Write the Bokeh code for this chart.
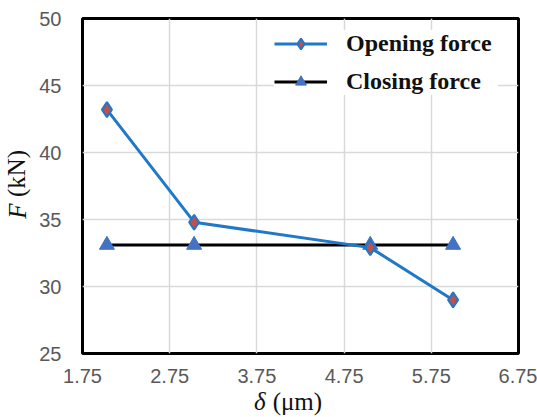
from bokeh.plotting import figure
from bokeh.models import Range1d, FixedTicker, Legend, LegendItem, LinearAxis
from bokeh.embed import file_html
from bokeh.resources import INLINE

delta = [2.03, 3.03, 5.05, 6.0]
opening = [43.2, 34.8, 32.9, 29.0]
closing = [33.1, 33.1, 33.1, 33.1]
x_ticks = [1.75, 2.75, 3.75, 4.75, 5.75, 6.75]
y_ticks = [25, 30, 35, 40, 45, 50]
series_names = ["Opening force", "Closing force"]

NB = "\u00a0"

p = figure(width=537, height=417, output_backend="svg", toolbar_location=None,
           x_range=Range1d(1.75, 6.75), y_range=Range1d(25, 50),
           min_border_left=79, min_border_right=19, min_border_top=18,
           min_border_bottom=60, background_fill_color="white",
           border_fill_color="white")

p.outline_line_color = "black"
p.outline_line_width = 3

p.xaxis.ticker = FixedTicker(ticks=x_ticks)
p.yaxis.ticker = FixedTicker(ticks=y_ticks)
p.xaxis.formatter.use_scientific = False
for ax in (p.xaxis, p.yaxis):
    ax.axis_line_color = None
    ax.major_tick_line_color = None
    ax.minor_tick_line_color = None
    ax.major_label_text_font = "Liberation Sans"
    ax.major_label_text_font_size = "20px"
    ax.major_label_text_color = "#595959"
    ax.axis_label_text_font = "Liberation Serif"
    ax.axis_label_text_font_size = "25px"
    ax.axis_label_text_font_style = "normal"
    ax.axis_label_text_color = "#111111"
p.xaxis.major_label_standoff = 9
p.yaxis.major_label_standoff = 15
p.yaxis.axis_label = NB * 4 + "(kN)"
p.xaxis.axis_label = "(μm)" + NB
p.yaxis.axis_label_standoff = 6
p.xaxis.axis_label_standoff = 2


def italic_axis(text, standoff):
    ax = LinearAxis(ticker=FixedTicker(ticks=[]), axis_label=text)
    ax.axis_line_color = None
    ax.major_tick_line_color = None
    ax.minor_tick_line_color = None
    ax.axis_label_text_font = "Liberation Serif"
    ax.axis_label_text_font_size = "25px"
    ax.axis_label_text_font_style = "italic"
    ax.axis_label_text_color = "#111111"
    ax.axis_label_standoff = standoff
    return ax


p.add_layout(italic_axis("F" + NB * 8, -30), "left")
p.add_layout(italic_axis("δ" + NB * 13, -30), "below")

p.xgrid.grid_line_color = "#d9d9d9"
p.ygrid.grid_line_color = "#d9d9d9"
p.xgrid.grid_line_width = 1.5
p.ygrid.grid_line_width = 1.5

# Closing force (drawn first, beneath)
cl_line = p.line(delta, closing, line_color="black", line_width=3)
cl_mark = p.scatter(delta, closing, marker="triangle", size=15,
                    fill_color="#4472C4", line_color="#4472C4", line_width=1)

# Opening force
op_line = p.line(delta, opening, line_color="#1F78C8", line_width=3)
op_mark = p.scatter(delta, opening, marker="diamond", size=15,
                    fill_color="#C0504D", line_color="#1F78C8", line_width=2)

legend = Legend(items=[
    LegendItem(label=series_names[0], renderers=[op_line, op_mark]),
    LegendItem(label=series_names[1], renderers=[cl_line, cl_mark]),
], location=(192, 258))
legend.border_line_color = None
legend.background_fill_color = "white"
legend.background_fill_alpha = 1
legend.label_text_font = "Liberation Serif"
legend.label_text_font_style = "bold"
legend.label_text_font_size = "24px"
legend.label_text_color = "#111111"
legend.glyph_width = 53
legend.glyph_height = 27
legend.label_height = 27
legend.label_width = 152
legend.label_standoff = 19
legend.spacing = 11
legend.padding = 12
legend.margin = 0
p.add_layout(legend)

open("out.html", "w").write(file_html(p, INLINE))
